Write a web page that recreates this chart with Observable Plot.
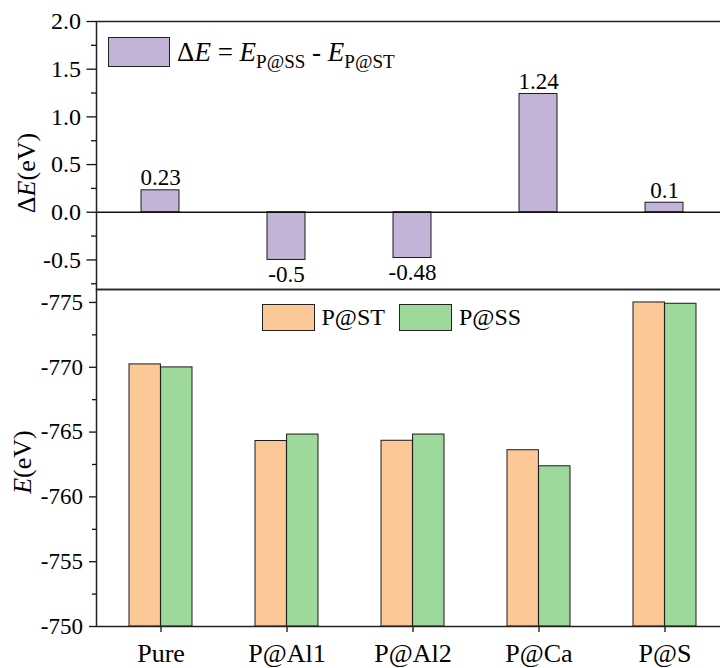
<!DOCTYPE html>
<html><head><meta charset="utf-8">
<script src="https://cdn.jsdelivr.net/npm/d3@7"></script>
<script src="https://cdn.jsdelivr.net/npm/@observablehq/plot@0.6"></script>
<style>
html,body{margin:0;padding:0;background:#fff;}
#wrap{position:relative;width:720px;height:668px;overflow:hidden;font-family:"Liberation Serif","Times New Roman",serif;color:#000;}
#wrap svg{display:block;max-width:none;}
#wrap svg text{font-family:"Liberation Serif","Times New Roman",serif;font-variant:normal;}
#bot{margin-top:-1px;}
.box{position:absolute;box-sizing:border-box;border:1px solid #222;}
.txt{position:absolute;white-space:nowrap;}
.rot{position:absolute;white-space:nowrap;transform:translate(-50%,-50%) rotate(-90deg);font-size:26px;line-height:26px;}
</style></head><body>
<div id="wrap">
  <div id="top"></div>
  <div id="bot"></div>
</div>
<script>
// ---- data ----
const categories = ["Pure", "P@Al1", "P@Al2", "P@Ca", "P@S"];
const deltaE = [0.23, -0.5, -0.48, 1.24, 0.1];
const deltaLabels = ["0.23", "-0.5", "-0.48", "1.24", "0.1"];
const eST = [-770.22, -764.31, -764.33, -763.60, -775.00];
const eSS = [-769.99, -764.81, -764.81, -762.36, -774.90];
const deltaTicks = [-0.5, 0, 0.5, 1.0, 1.5, 2.0];
const deltaMinor = [-0.75, -0.25, 0.25, 0.75, 1.25, 1.75];
const eTicks = [-775, -770, -765, -760, -755, -750];
const eMinor = [-772.5, -767.5, -762.5, -757.5, -752.5];
const seriesNames = ["P@ST", "P@SS"];

// ---- styles ----
const purple = "#C3B3D7", orange = "#FCC897", green = "#9ED99C";
const ink = "#1a1a1a";
const font = '"Liberation Serif", "Times New Roman", serif';

const topRows = categories.map((c, i) => ({c, v: deltaE[i], t: deltaLabels[i]}));
const botRows = categories.map((c, i) => ({c, st: eST[i], ss: eSS[i]}));

const topPlot = Plot.plot({
  width: 731, height: 290,
  marginTop: 21, marginBottom: 1, marginLeft: 96, marginRight: 2.5,
  style: {fontFamily: font, fontSize: "24px", color: "#000", background: "transparent", maxWidth: "none", overflow: "visible"},
  x: {type: "band", domain: categories, paddingInner: 0.7, paddingOuter: 0.35, axis: null},
  y: {type: "linear", domain: [-0.81, 2.0]},
  marks: [
    Plot.barY(topRows, {x: "c", y: "v", fill: purple, stroke: ink, strokeWidth: 1}),
    Plot.ruleY([0], {stroke: "#111", strokeWidth: 1.5}),
    Plot.text(topRows.filter(d => d.v >= 0), {x: "c", y: "v", text: "t", lineAnchor: "bottom", dy: -5, fontSize: 23, fontFamily: font, fill: "#000"}),
    Plot.text(topRows.filter(d => d.v < 0), {x: "c", y: "v", text: "t", lineAnchor: "top", dy: 6, fontSize: 23, fontFamily: font, fill: "#000"}),
    Plot.axisY({ticks: deltaTicks, tickSize: 9.5, tickPadding: 6, tickFormat: d => d.toFixed(1), fontSize: 24, fontFamily: font, label: null, stroke: "#111", strokeWidth: 1.3}),
    Plot.axisY({ticks: deltaMinor, tickSize: 5, tickPadding: 0, tickFormat: () => "", label: null, stroke: "#111", strokeWidth: 1.3}),
    Plot.frame({stroke: "#222", strokeWidth: 1.5})
  ]
});
document.getElementById("top").appendChild(topPlot);

const botPlot = Plot.plot({
  width: 731, height: 379,
  marginTop: 0, marginBottom: 42, marginLeft: 96, marginRight: 2.5,
  style: {fontFamily: font, fontSize: "23px", color: "#000", background: "transparent", maxWidth: "none", overflow: "visible"},
  x: {type: "band", domain: categories, paddingInner: 0.5, paddingOuter: 0.25},
  y: {type: "linear", domain: [-750, -776]},
  marks: [
    Plot.barY(botRows, {x: "c", y1: () => -750, y2: "st", fill: orange, stroke: ink, strokeWidth: 1, insetRight: 31.6}),
    Plot.barY(botRows, {x: "c", y1: () => -750, y2: "ss", fill: green, stroke: ink, strokeWidth: 1, insetLeft: 31.6}),
    Plot.axisY({ticks: eTicks, tickSize: 7, tickPadding: 6.5, tickFormat: d => String(d), fontSize: 23, fontFamily: font, label: null, stroke: "#111", strokeWidth: 1.3}),
    Plot.axisY({ticks: eMinor, tickSize: 4, tickPadding: 0, tickFormat: () => "", label: null, stroke: "#111", strokeWidth: 1.3}),
    Plot.axisX({tickSize: 6, tickPadding: 11.5, fontSize: 26, fontFamily: font, label: null, stroke: "#111", strokeWidth: 1.3}),
    Plot.frame({stroke: "#222", strokeWidth: 1.5})
  ]
});
document.getElementById("bot").appendChild(botPlot);

// ---- legends and axis titles (HTML overlay) ----
const wrap = document.getElementById("wrap");
function add(html) { const d = document.createElement("div"); d.innerHTML = html; wrap.appendChild(d.firstElementChild); }
add(`<div class="box" style="left:108px;top:37px;width:62px;height:30px;background:${purple}"></div>`);
add(`<div class="txt" style="left:177px;top:39px;font-size:27px;line-height:27px">Δ<i>E</i> = <i>E</i><span style="font-size:19px;position:relative;top:6.7px">P@SS</span> - <i>E</i><span style="font-size:19px;position:relative;top:6.7px">P@ST</span></div>`);
add(`<div class="box" style="left:262px;top:304px;width:53px;height:27px;background:${orange}"></div>`);
add(`<div class="txt" style="left:321.5px;top:305px;font-size:24px;line-height:24px">${seriesNames[0]}</div>`);
add(`<div class="box" style="left:399px;top:304px;width:53px;height:27px;background:${green}"></div>`);
add(`<div class="txt" style="left:459px;top:305px;font-size:24px;line-height:24px">${seriesNames[1]}</div>`);
add(`<div class="rot" style="left:27px;top:173px">Δ<i>E</i>(eV)</div>`);
add(`<div class="rot" style="left:23px;top:462px"><i>E</i>(eV)</div>`);
</script>
</body></html>
